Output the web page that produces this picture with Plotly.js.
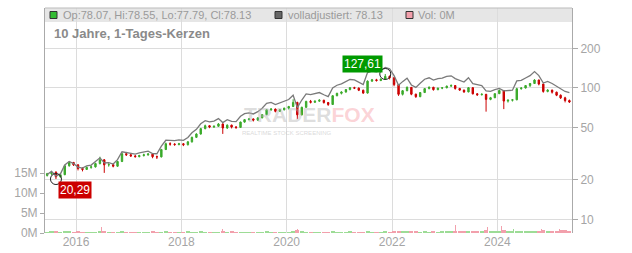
<!DOCTYPE html>
<html><head><meta charset="utf-8">
<script src="https://cdn.plot.ly/plotly-3.0.1.min.js"></script>
<style>html,body{margin:0;padding:0;background:#fff}</style>
</head><body><div id="chart" style="width:632px;height:253px"></div>
<script>
// ---- data (monthly candles) ----
const months = [
"2015-06","2015-07","2015-08","2015-09","2015-10","2015-11","2015-12",
"2016-01","2016-02","2016-03","2016-04","2016-05","2016-06","2016-07","2016-08","2016-09","2016-10","2016-11","2016-12",
"2017-01","2017-02","2017-03","2017-04","2017-05","2017-06","2017-07","2017-08","2017-09","2017-10","2017-11","2017-12",
"2018-01","2018-02","2018-03","2018-04","2018-05","2018-06","2018-07","2018-08","2018-09","2018-10","2018-11","2018-12",
"2019-01","2019-02","2019-03","2019-04","2019-05","2019-06","2019-07","2019-08","2019-09","2019-10","2019-11","2019-12",
"2020-01","2020-02","2020-03","2020-04","2020-05","2020-06","2020-07","2020-08","2020-09","2020-10","2020-11","2020-12",
"2021-01","2021-02","2021-03","2021-04","2021-05","2021-06","2021-07","2021-08","2021-09","2021-10","2021-11","2021-12",
"2022-01","2022-02","2022-03","2022-04","2022-05","2022-06","2022-07","2022-08","2022-09","2022-10","2022-11","2022-12",
"2023-01","2023-02","2023-03","2023-04","2023-05","2023-06","2023-07","2023-08","2023-09","2023-10","2023-11","2023-12",
"2024-01","2024-02","2024-03","2024-04","2024-05","2024-06","2024-07","2024-08","2024-09","2024-10","2024-11","2024-12",
"2025-01","2025-02","2025-03","2025-04","2025-05"];

const openPrices = [
21.6,22.3,22.9,21.1,21.9,25.6,27.1,
26.0,24.4,24.0,24.9,25.1,26.6,28.4,26.0,26.1,25.4,27.6,31.6,
31.0,30.4,30.0,30.6,31.0,31.4,30.0,29.9,34.0,37.6,37.4,37.1,
37.6,37.0,38.9,42.1,44.6,49.0,51.6,50.4,51.1,53.2,49.6,52.1,
50.4,50.1,55.0,57.4,58.1,56.9,59.2,62.6,68.2,69.1,66.4,68.2,
70.1,72.2,77.6,62.4,71.2,79.0,77.8,79.3,80.6,77.4,74.8,87.2,
91.0,93.1,97.2,100.4,99.6,96.0,91.4,112.6,115.2,113.8,116.4,122.4,
119.6,106.0,89.4,95.2,101.0,89.6,85.8,92.2,98.8,101.2,97.0,99.6,
100.2,103.2,104.2,99.0,96.2,93.2,100.4,90.2,88.6,89.4,81.8,84.2,
90.4,95.6,79.4,80.6,81.2,98.6,99.8,104.2,108.0,114.8,107.0,94.0,
96.2,92.8,88.0,84.0,80.2];
const highPrices = [
22.6,23.4,23.2,22.4,26.0,27.8,27.4,
26.3,24.9,25.3,25.8,27.0,30.0,28.8,26.8,26.6,27.9,32.4,32.6,
31.5,30.9,31.0,31.6,32.0,31.8,30.6,34.4,38.4,38.6,38.0,38.2,
38.1,39.4,42.6,45.2,49.6,52.6,52.0,51.8,54.0,53.8,52.8,52.6,
51.2,55.4,58.0,58.9,58.6,59.8,63.0,68.8,70.0,69.6,68.9,70.8,
73.0,82.0,78.4,72.0,79.8,81.0,80.2,82.0,81.2,78.2,88.0,91.8,
94.2,97.8,101.4,102.0,100.8,97.0,114.0,117.0,117.2,118.4,127.61,124.2,
120.4,107.0,96.4,102.6,101.6,90.4,92.8,99.6,102.6,101.8,100.4,101.2,
104.0,106.4,104.8,100.0,97.0,101.4,101.0,91.2,91.0,90.0,85.4,91.0,
97.2,96.0,81.8,82.4,100.2,101.2,105.0,109.0,116.4,115.6,107.6,97.8,
97.0,93.6,89.2,85.6,81.6];
const lowPrices = [
21.2,21.8,20.29,20.8,21.7,25.2,25.5,
23.6,23.2,23.8,24.3,24.8,26.2,22.6,25.2,24.9,25.1,27.3,30.4,
29.9,29.6,29.7,30.1,30.5,29.2,28.8,29.6,33.7,36.4,36.3,36.6,
36.1,36.5,38.4,41.6,44.2,48.5,49.4,49.6,50.6,44.7,48.7,49.2,
48.8,49.8,54.4,56.6,55.6,56.2,58.8,62.0,66.9,65.2,65.8,67.4,
68.6,71.6,58.0,61.8,70.6,76.2,76.8,78.4,76.0,73.0,74.2,86.4,
89.2,92.0,95.8,98.0,94.6,90.2,90.6,111.4,111.8,112.6,115.8,116.0,
103.0,87.0,87.6,94.4,88.0,84.0,85.0,91.6,97.6,95.4,96.0,97.8,
99.4,101.8,97.0,95.0,91.8,92.6,89.2,87.2,87.8,66.0,80.6,83.6,
89.8,69.0,77.4,78.8,80.6,97.0,99.0,101.6,107.2,104.6,92.0,92.6,
90.6,86.6,82.4,77.6,76.8];
const closePrices = [
22.3,22.9,21.1,21.9,25.6,27.1,26.0,
24.4,24.0,24.9,25.1,26.6,28.4,26.0,26.1,25.4,27.6,31.6,31.0,
30.4,30.0,30.6,31.0,31.4,30.0,29.9,34.0,37.6,37.4,37.1,37.6,
37.0,38.9,42.1,44.6,49.0,51.6,50.4,51.1,53.2,49.6,52.1,50.4,
50.1,55.0,57.4,58.1,56.9,59.2,62.6,68.2,69.1,66.4,68.2,70.1,
72.2,77.6,62.4,71.2,79.0,77.8,79.3,80.6,77.4,74.8,87.2,91.0,
93.1,97.2,100.4,99.6,96.0,91.4,112.6,115.2,113.8,116.4,122.4,119.6,
106.0,89.4,95.2,101.0,89.6,85.8,92.2,98.8,101.2,97.0,99.6,100.2,
103.2,104.2,99.0,96.2,93.2,100.4,90.2,88.6,89.4,81.8,84.2,90.4,
95.6,79.4,80.6,81.2,98.6,99.8,104.2,108.0,114.8,107.0,94.0,96.2,
92.8,88.0,84.0,80.2,78.13];
const adjustedPrices = [
22.0,23.2,21.4,22.2,26.0,27.6,26.6,
25.0,24.6,25.6,25.9,27.4,29.4,26.9,27.0,26.4,28.5,32.7,32.2,
31.8,31.4,32.1,32.6,33.1,31.7,31.6,36.1,40.0,39.9,39.7,40.3,
39.9,42.0,45.6,48.4,53.4,56.3,55.2,56.0,58.4,54.5,57.3,55.6,
55.4,60.9,63.8,64.6,63.4,66.0,70.0,76.3,77.6,74.8,76.9,79.2,
81.6,88.0,70.8,80.9,90.0,88.8,90.6,92.2,88.7,85.8,100.1,104.8,
107.3,112.1,115.9,115.2,111.2,106.0,130.9,134.1,132.6,135.8,143.0,139.9,
124.0,104.7,111.6,118.6,105.3,100.9,108.5,116.4,119.4,114.6,117.7,118.6,
122.2,123.6,117.6,114.4,110.9,119.6,107.6,105.8,104.0,95.0,94.0,97.0,
99.0,95.0,95.0,96.0,113.0,114.0,119.0,124.0,133.0,124.0,109.0,112.0,
108.0,103.0,98.0,94.0,92.0];
// typical daily volume per month, millions of shares
const volumeMillions = [
0.35,0.40,0.55,0.35,0.40,0.45,0.30,
0.40,0.35,0.30,0.35,0.30,0.60,0.45,0.30,0.25,0.35,0.40,0.30,
0.30,0.25,0.30,0.35,0.30,0.40,0.30,0.35,0.40,0.30,0.30,0.25,
0.30,0.40,0.35,0.30,0.40,0.35,0.30,0.25,0.30,0.45,0.35,0.40,
0.35,0.30,0.30,0.35,0.30,0.30,0.35,0.40,0.30,0.35,0.30,0.30,
0.35,0.45,0.70,0.40,0.35,0.30,0.30,0.25,0.30,0.35,0.45,0.35,
0.35,0.30,0.40,0.35,0.30,0.35,0.50,0.35,0.30,0.35,0.40,0.35,
0.50,0.55,0.45,0.40,0.45,0.40,0.35,0.40,0.35,0.40,0.35,0.40,
0.45,0.50,0.60,0.45,0.40,0.45,0.50,0.40,0.45,0.70,0.50,0.45,
0.55,0.80,0.50,0.45,0.60,0.45,0.50,0.45,0.55,0.60,0.65,0.55,
0.50,0.60,0.65,0.70,0.55];
const spikeDates = ["2016-06-24","2018-10-11","2020-03-16","2023-02-14","2023-03-17","2023-03-20","2023-10-25","2024-02-01","2024-04-25","2024-11-05","2025-03-10"];
const spikeVolumesM = [1.5,0.9,1.0,1.2,1.9,12.0,1.4,1.8,1.1,0.9,0.9];
const spikeIsUp = [false,false,false,false,false,true,false,false,true,false,false];
const lastDay = {open:78.07, high:78.55, low:77.79, close:78.13, adjusted:78.13, volumeM:0};
const priceTicks = [10,20,50,100,200];
const volumeTicks = [0,5,10,15];
const yearTicks = ["2016-01-01","2018-01-01","2020-01-01","2022-01-01","2024-01-01"];
const chartTitle = "10 Jahre, 1-Tages-Kerzen";

// ---- styling helpers ----
const L=45,R=572,T=8,B=233, W=R-L, H=B-T;
const px = x => (x-L)/W, py = y => (B-y)/H;
const GREEN='#3aaa2a', RED='#cc0000', PINK='#f2a0ac', LGREEN='#9ddc96';
const dates = months.map(m => m + "-15");
const fmt = v => v.toFixed(2).replace('.', ',');

let iMax = 0, iMin = 0;
highPrices.forEach((v,i)=>{ if (v>highPrices[iMax]) iMax=i; });
lowPrices.forEach((v,i)=>{ if (v<lowPrices[iMin]) iMin=i; });

const volColors = closePrices.map((c,i)=> c>=openPrices[i] ? LGREEN : PINK);

const traces = [
  {type:'scatter', mode:'lines', x:dates, y:adjustedPrices, yaxis:'y', line:{color:'#7a7a7a', width:1.3}, hoverinfo:'skip'},
  {type:'candlestick', x:dates, open:openPrices, high:highPrices, low:lowPrices, close:closePrices, yaxis:'y',
   increasing:{line:{color:GREEN, width:1}, fillcolor:GREEN},
   decreasing:{line:{color:RED, width:1}, fillcolor:RED}, whiskerwidth:0, hoverinfo:'skip'},
  {type:'scatter', mode:'markers', x:[dates[iMax], dates[iMin]], y:[highPrices[iMax], lowPrices[iMin]], yaxis:'y',
   marker:{symbol:'circle-open', size:11, color:'#222', line:{width:1}}, hoverinfo:'skip'},
  {type:'bar', x:dates, y:volumeMillions.map(v=>v*1e6), yaxis:'y2', marker:{color:volColors, line:{width:0}}, hoverinfo:'skip'},
  {type:'bar', x:spikeDates, y:spikeVolumesM.map(v=>v*1e6), yaxis:'y2', width:6*86400000,
   marker:{color:spikeIsUp.map(u=>u?LGREEN:PINK), line:{width:0}}, hoverinfo:'skip'}
];

const tickFont = {family:'Arial, Liberation Sans, sans-serif', size:12, color:'#a5a5a5'};
const layout = {
  width:632, height:253, margin:{l:L, r:632-R, t:T, b:253-B},
  paper_bgcolor:'#fff', plot_bgcolor:'#fff', showlegend:false, bargap:0, barmode:'overlay', boxgap:0.5,
  font:{family:'Arial, Liberation Sans, sans-serif'},
  xaxis:{type:'date', range:['2015-05-31','2025-06-02'], rangeslider:{visible:false},
    tickvals:yearTicks, ticktext:yearTicks.map(d=>d.slice(0,4)), showgrid:true, gridcolor:'#dcdcdc', gridwidth:1,
    ticks:'', tickfont:tickFont, showline:false, zeroline:false, fixedrange:true},
  yaxis:{type:'log', side:'right', range:[Math.log10(7.89), Math.log10(405)], tickvals:priceTicks, ticktext:priceTicks.map(String),
    showgrid:true, gridcolor:'#dcdcdc', ticks:'outside', ticklen:5, tickcolor:'#aaa', tickfont:tickFont,
    showline:true, linecolor:'#aaa', linewidth:1, zeroline:false},
  yaxis2:{overlaying:'y', side:'left', range:[0, 56.25e6], tickvals:volumeTicks.map(v=>v*1e6), ticktext:volumeTicks.map(v=>v+'M'),
    showgrid:false, ticks:'outside', ticklen:4, tickcolor:'#aaa', tickfont:tickFont,
    showline:true, linecolor:'#aaa', linewidth:1, zeroline:false},
  shapes:[
    {type:'rect', xref:'paper', yref:'paper', x0:0, x1:1, y0:py(22), y1:1, fillcolor:'#e6e6e6', line:{width:0}, layer:'below'},
    {type:'line', xref:'paper', yref:'paper', x0:0, x1:1, y0:1, y1:1, line:{color:'#bbb', width:1}},
    {type:'rect', xref:'paper', yref:'paper', x0:px(50), x1:px(57), y0:py(18.5), y1:py(11.5), fillcolor:'#33bb33', line:{color:'#333', width:1}},
    {type:'rect', xref:'paper', yref:'paper', x0:px(275), x1:px(282), y0:py(18.5), y1:py(11.5), fillcolor:'#666', line:{color:'#333', width:1}},
    {type:'rect', xref:'paper', yref:'paper', x0:px(406), x1:px(413), y0:py(18.5), y1:py(11.5), fillcolor:PINK, line:{color:'#333', width:1}}
  ],
  annotations:[
    {xref:'paper', yref:'paper', x:px(61), y:py(15), xanchor:'left', yanchor:'middle', showarrow:false,
     text:`Op:${lastDay.open.toFixed(2)}, Hi:${lastDay.high.toFixed(2)}, Lo:${lastDay.low.toFixed(2)}, Cl:${lastDay.close.toFixed(2)}`,
     font:{size:11, color:'#9a9a9a'}},
    {xref:'paper', yref:'paper', x:px(286), y:py(15), xanchor:'left', yanchor:'middle', showarrow:false,
     text:`volladjustiert: ${lastDay.adjusted.toFixed(2)}`, font:{size:11, color:'#9a9a9a'}},
    {xref:'paper', yref:'paper', x:px(416), y:py(15), xanchor:'left', yanchor:'middle', showarrow:false,
     text:`Vol: ${lastDay.volumeM}M`, font:{size:11, color:'#9a9a9a'}},
    {xref:'paper', yref:'paper', x:px(52), y:py(33), xanchor:'left', yanchor:'middle', showarrow:false,
     text:`<b>${chartTitle}</b>`, font:{size:13, color:'#8a8a8a'}},
    {xref:'paper', yref:'paper', x:px(309), y:py(115), xanchor:'center', yanchor:'middle', showarrow:false,
     text:'<b><span style="color:rgba(180,180,180,0.45)">TRADER</span><span style="color:rgba(245,130,140,0.35)">FOX</span></b>',
     font:{size:21}},
    {xref:'paper', yref:'paper', x:px(286), y:py(133), xanchor:'center', yanchor:'middle', showarrow:false,
     text:'REALTIME STOCK SCREENING', font:{size:6, color:'rgba(180,180,180,0.5)'}},
    {x:dates[iMax], y:Math.log10(highPrices[iMax]), xref:'x', yref:'y', showarrow:false, xanchor:'right', yanchor:'bottom',
     xshift:-2, yshift:1, text:fmt(highPrices[iMax]), bgcolor:'#009a00', borderpad:1, font:{size:12, color:'#fff'}},
    {x:dates[iMin], y:Math.log10(lowPrices[iMin]), xref:'x', yref:'y', showarrow:false, xanchor:'left', yanchor:'top',
     xshift:2, yshift:-2, text:fmt(lowPrices[iMin]), bgcolor:'#cc0000', borderpad:1, font:{size:12, color:'#fff'}}
  ]
};
Plotly.newPlot('chart', traces, layout, {staticPlot:true, displayModeBar:false});
</script></body></html>
